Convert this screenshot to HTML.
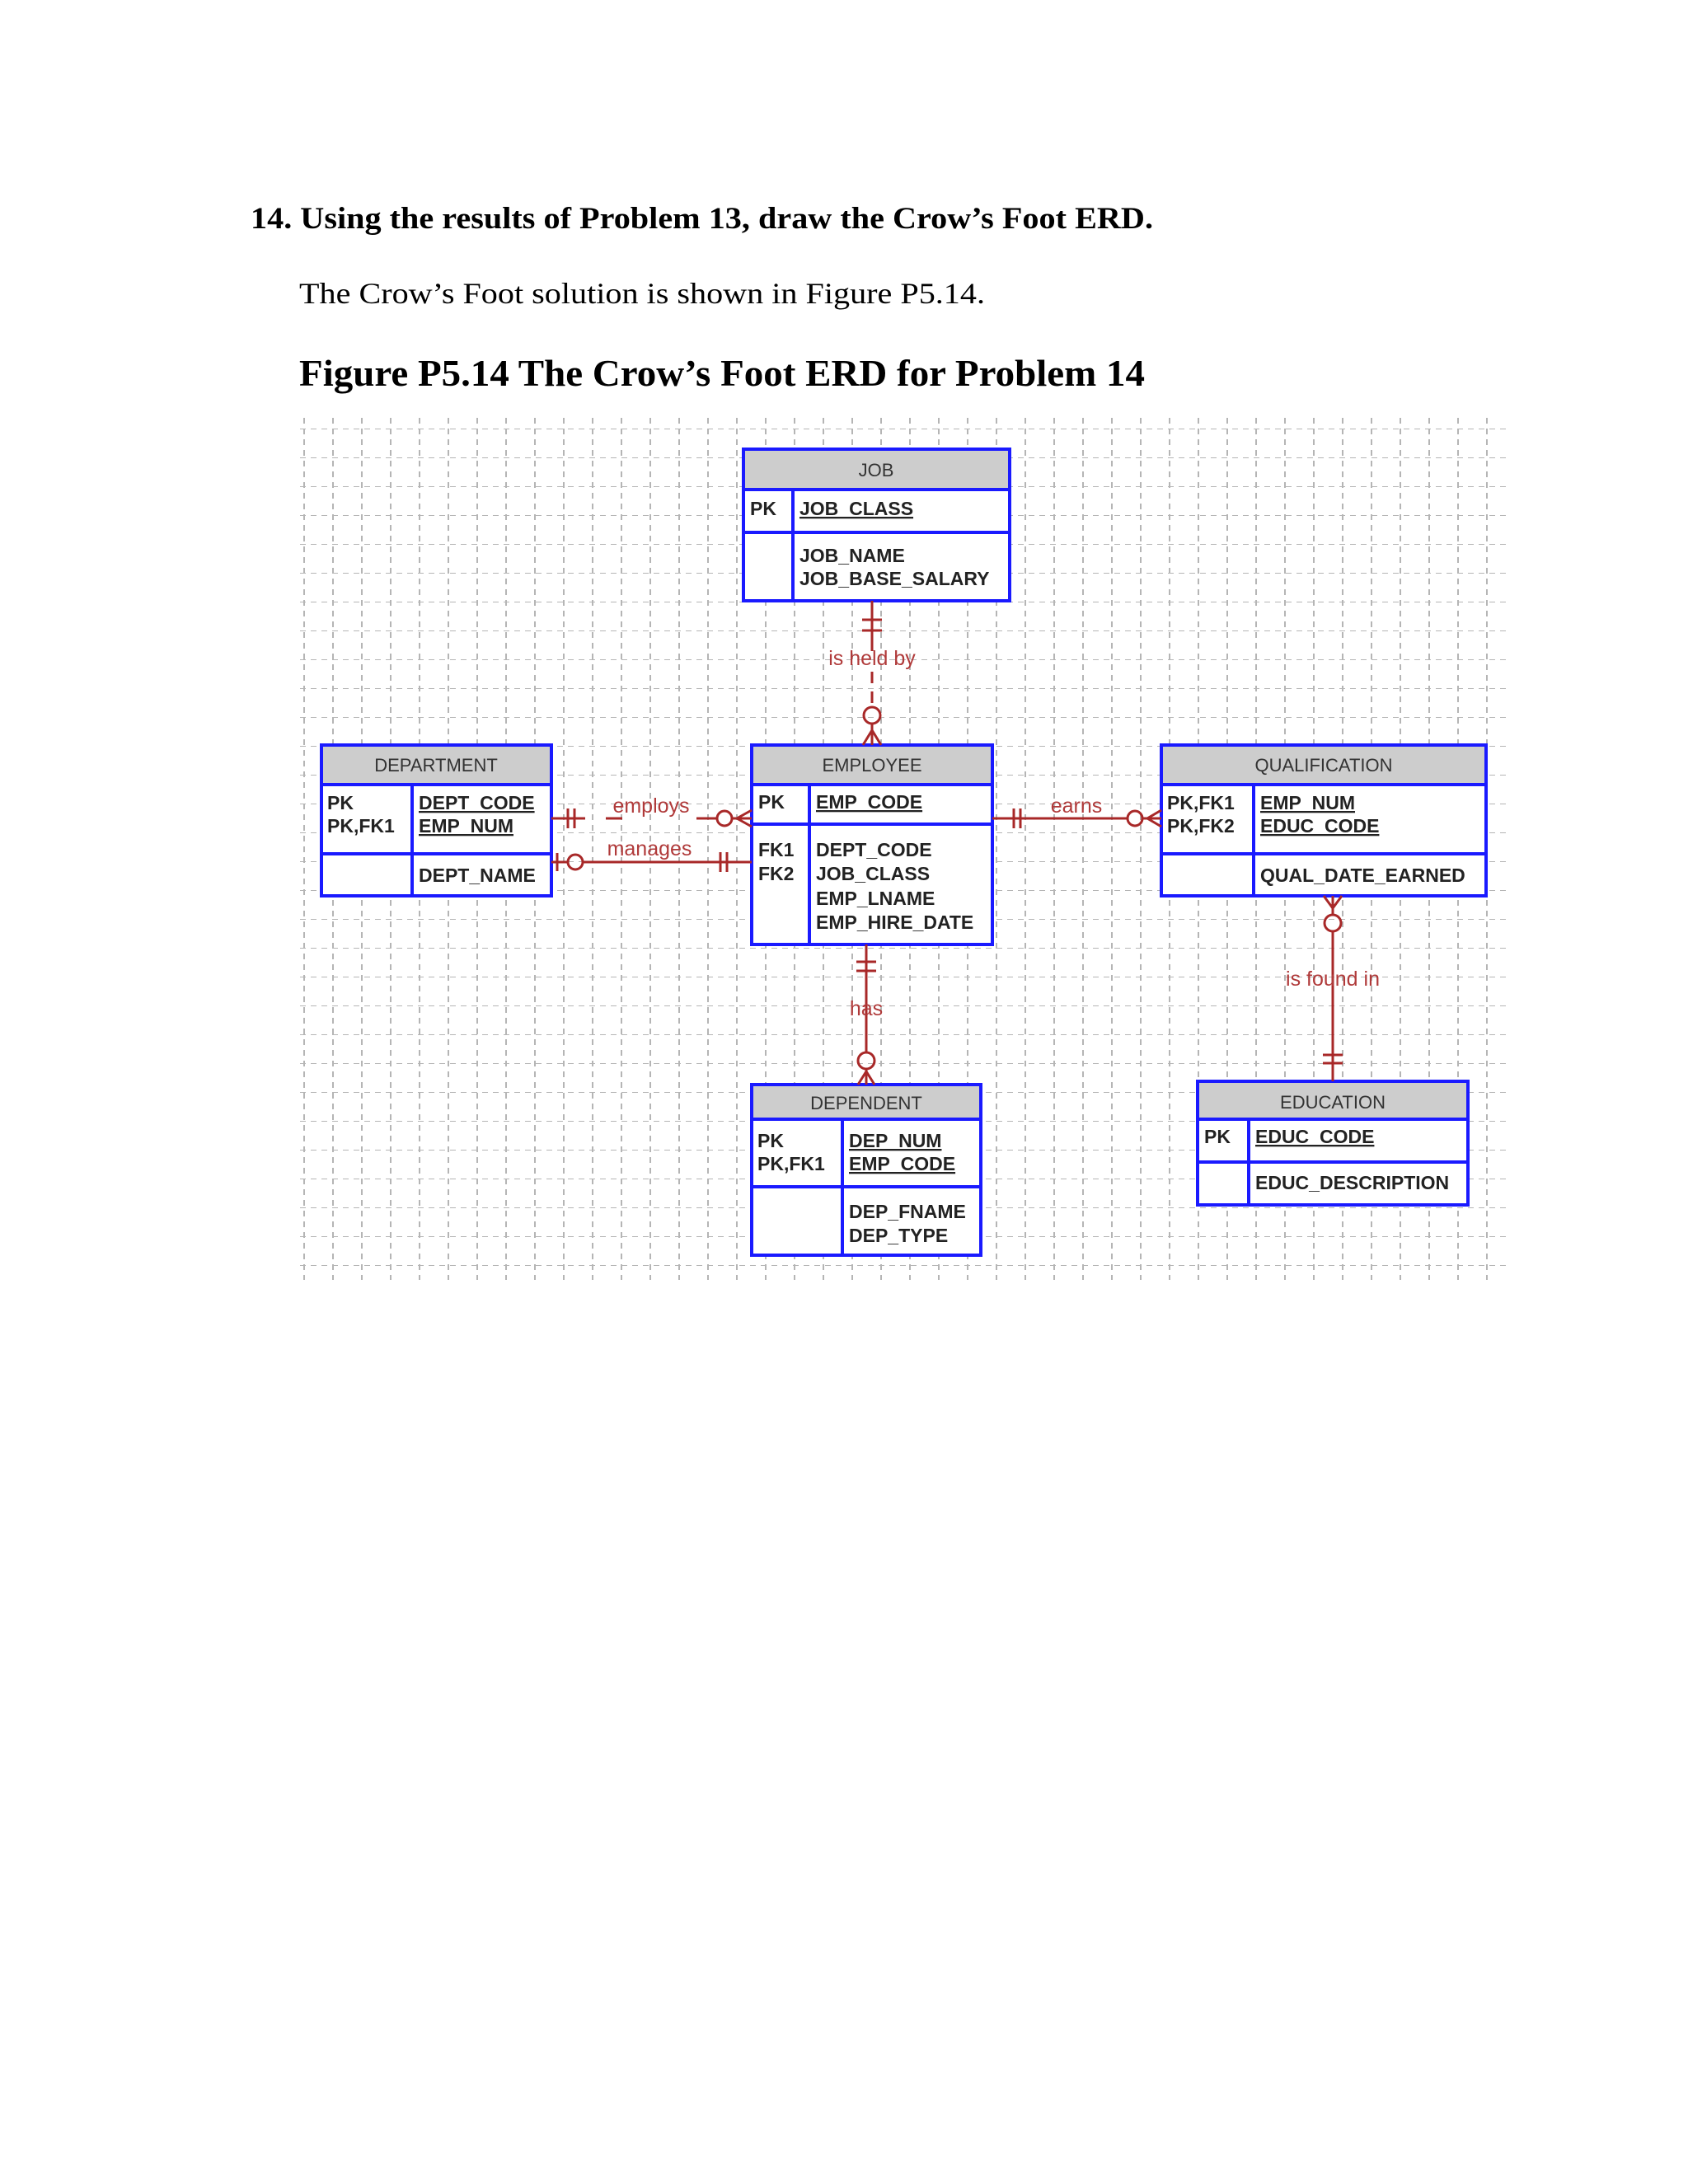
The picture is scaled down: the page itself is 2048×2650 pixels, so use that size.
<!DOCTYPE html>
<html><head><meta charset="utf-8"><style>
html,body{margin:0;padding:0;background:#fff;}
svg{display:block;}
.t{font-family:"Liberation Sans",Arial,sans-serif;font-size:23px;font-weight:bold;fill:#222;}
.t.ul{text-decoration:underline;}
.h{font-family:"Liberation Sans",Arial,sans-serif;font-size:22px;fill:#333;}
.r{font-family:"Liberation Sans",Arial,sans-serif;font-size:25px;fill:#b03a3a;}
.box{fill:#fff;stroke:#1a1aff;stroke-width:4;}
.hd{fill:#cdcdcd;}
.bl{stroke:#1a1aff;stroke-width:4;}
.rl{stroke:#a82828;stroke-width:3;fill:none;}
</style></head><body>
<svg width="2048" height="2650" viewBox="0 0 2048 2650" xmlns="http://www.w3.org/2000/svg">
<defs>
<pattern id="gv" x="352" y="0" width="35" height="2650" patternUnits="userSpaceOnUse">
<line x1="17" y1="0" x2="17" y2="2650" stroke="#b5b5b5" stroke-width="2" stroke-dasharray="7 6"/>
</pattern>
<pattern id="gh" x="0" y="520" width="2048" height="35" patternUnits="userSpaceOnUse">
<line x1="0" y1="0" x2="2048" y2="0" stroke="#b5b5b5" stroke-width="2" stroke-dasharray="7 6"/>
</pattern>
</defs>
<text x="304" y="277" font-family="Liberation Serif,serif" font-weight="bold" font-size="37" textLength="1095" lengthAdjust="spacingAndGlyphs">14. Using the results of Problem 13, draw the Crow’s Foot ERD.</text>
<text x="363" y="368" font-family="Liberation Serif,serif" font-size="36" textLength="832" lengthAdjust="spacingAndGlyphs">The Crow’s Foot solution is shown in Figure P5.14.</text>
<text x="363" y="468" font-family="Liberation Serif,serif" font-weight="bold" font-size="46" textLength="1026" lengthAdjust="spacingAndGlyphs">Figure P5.14 The Crow’s Foot ERD for Problem 14</text>

<rect x="363" y="507" width="1467" height="1046" fill="url(#gv)"/>
<rect x="363" y="507" width="1467" height="1046" fill="url(#gh)"/>

<!-- JOB -->
<rect class="box" x="902" y="545" width="323" height="184"/>
<rect class="hd" x="904" y="547" width="319" height="47"/>
<line class="bl" x1="902" y1="594" x2="1225" y2="594"/>
<line class="bl" x1="902" y1="646" x2="1225" y2="646"/>
<line class="bl" x1="962" y1="594" x2="962" y2="729"/>
<text class="h" x="1063" y="578" text-anchor="middle">JOB</text>
<text class="t" x="910" y="625">PK</text>
<text class="t ul" x="970" y="625">JOB_CLASS</text>
<text class="t" x="970" y="682">JOB_NAME</text>
<text class="t" x="970" y="710">JOB_BASE_SALARY</text>

<!-- DEPARTMENT -->
<rect class="box" x="390" y="904" width="279" height="183"/>
<rect class="hd" x="392" y="906" width="275" height="46"/>
<line class="bl" x1="390" y1="952" x2="669" y2="952"/>
<line class="bl" x1="390" y1="1036" x2="669" y2="1036"/>
<line class="bl" x1="500" y1="952" x2="500" y2="1087"/>
<text class="h" x="529" y="936" text-anchor="middle">DEPARTMENT</text>
<text class="t" x="397" y="982">PK</text>
<text class="t" x="397" y="1010">PK,FK1</text>
<text class="t ul" x="508" y="982">DEPT_CODE</text>
<text class="t ul" x="508" y="1010">EMP_NUM</text>
<text class="t" x="508" y="1070">DEPT_NAME</text>

<!-- EMPLOYEE -->
<rect class="box" x="912" y="904" width="292" height="242"/>
<rect class="hd" x="914" y="906" width="288" height="46"/>
<line class="bl" x1="912" y1="952" x2="1204" y2="952"/>
<line class="bl" x1="912" y1="1000" x2="1204" y2="1000"/>
<line class="bl" x1="982" y1="952" x2="982" y2="1146"/>
<text class="h" x="1058" y="936" text-anchor="middle">EMPLOYEE</text>
<text class="t" x="920" y="981">PK</text>
<text class="t ul" x="990" y="981">EMP_CODE</text>
<text class="t" x="920" y="1039">FK1</text>
<text class="t" x="920" y="1068">FK2</text>
<text class="t" x="990" y="1039">DEPT_CODE</text>
<text class="t" x="990" y="1068">JOB_CLASS</text>
<text class="t" x="990" y="1098">EMP_LNAME</text>
<text class="t" x="990" y="1127">EMP_HIRE_DATE</text>

<!-- QUALIFICATION -->
<rect class="box" x="1409" y="904" width="394" height="183"/>
<rect class="hd" x="1411" y="906" width="390" height="46"/>
<line class="bl" x1="1409" y1="952" x2="1803" y2="952"/>
<line class="bl" x1="1409" y1="1036" x2="1803" y2="1036"/>
<line class="bl" x1="1521" y1="952" x2="1521" y2="1087"/>
<text class="h" x="1606" y="936" text-anchor="middle">QUALIFICATION</text>
<text class="t" x="1416" y="982">PK,FK1</text>
<text class="t" x="1416" y="1010">PK,FK2</text>
<text class="t ul" x="1529" y="982">EMP_NUM</text>
<text class="t ul" x="1529" y="1010">EDUC_CODE</text>
<text class="t" x="1529" y="1070">QUAL_DATE_EARNED</text>

<!-- DEPENDENT -->
<rect class="box" x="912" y="1316" width="278" height="207"/>
<rect class="hd" x="914" y="1318" width="274" height="40"/>
<line class="bl" x1="912" y1="1358" x2="1190" y2="1358"/>
<line class="bl" x1="912" y1="1440" x2="1190" y2="1440"/>
<line class="bl" x1="1022" y1="1358" x2="1022" y2="1523"/>
<text class="h" x="1051" y="1346" text-anchor="middle">DEPENDENT</text>
<text class="t" x="919" y="1392">PK</text>
<text class="t" x="919" y="1420">PK,FK1</text>
<text class="t ul" x="1030" y="1392">DEP_NUM</text>
<text class="t ul" x="1030" y="1420">EMP_CODE</text>
<text class="t" x="1030" y="1478">DEP_FNAME</text>
<text class="t" x="1030" y="1507">DEP_TYPE</text>

<!-- EDUCATION -->
<rect class="box" x="1453" y="1312" width="328" height="150"/>
<rect class="hd" x="1455" y="1314" width="324" height="44"/>
<line class="bl" x1="1453" y1="1358" x2="1781" y2="1358"/>
<line class="bl" x1="1453" y1="1410" x2="1781" y2="1410"/>
<line class="bl" x1="1515" y1="1358" x2="1515" y2="1462"/>
<text class="h" x="1617" y="1345" text-anchor="middle">EDUCATION</text>
<text class="t" x="1461" y="1387">PK</text>
<text class="t ul" x="1523" y="1387">EDUC_CODE</text>
<text class="t" x="1523" y="1443">EDUC_DESCRIPTION</text>

<!-- JOB - EMPLOYEE -->
<line class="rl" x1="1058" y1="729" x2="1058" y2="790"/>
<line class="rl" x1="1058" y1="815" x2="1058" y2="858" stroke-dasharray="14 10"/>
<line class="rl" x1="1046" y1="752" x2="1070" y2="752"/>
<line class="rl" x1="1046" y1="765" x2="1070" y2="765"/>
<circle class="rl" cx="1058" cy="868" r="10"/>
<line class="rl" x1="1058" y1="878" x2="1058" y2="904"/>
<path class="rl" d="M1058 886 L1047 904 M1058 886 L1069 904"/>
<text class="r" x="1058" y="807" text-anchor="middle">is held by</text>

<!-- employs -->
<line class="rl" x1="669" y1="993" x2="710" y2="993"/>
<line class="rl" x1="735" y1="993" x2="755" y2="993" />
<line class="rl" x1="845" y1="993" x2="869" y2="993"/>
<line class="rl" x1="689" y1="981" x2="689" y2="1005"/>
<line class="rl" x1="697" y1="981" x2="697" y2="1005"/>
<circle class="rl" cx="879" cy="993" r="9"/>
<line class="rl" x1="888" y1="993" x2="912" y2="993"/>
<path class="rl" d="M894 993 L912 983 M894 993 L912 1003"/>
<text class="r" x="790" y="986" text-anchor="middle">employs</text>

<!-- manages -->
<line class="rl" x1="669" y1="1046" x2="689" y2="1046"/>
<line class="rl" x1="676" y1="1035" x2="676" y2="1057"/>
<circle class="rl" cx="698" cy="1046" r="9"/>
<line class="rl" x1="707" y1="1046" x2="912" y2="1046"/>
<line class="rl" x1="874" y1="1034" x2="874" y2="1058"/>
<line class="rl" x1="882" y1="1034" x2="882" y2="1058"/>
<text class="r" x="788" y="1038" text-anchor="middle">manages</text>

<!-- earns -->
<line class="rl" x1="1204" y1="993" x2="1368" y2="993"/>
<line class="rl" x1="1230" y1="981" x2="1230" y2="1005"/>
<line class="rl" x1="1238" y1="981" x2="1238" y2="1005"/>
<circle class="rl" cx="1377" cy="993" r="9"/>
<line class="rl" x1="1386" y1="993" x2="1409" y2="993"/>
<path class="rl" d="M1392 993 L1409 983 M1392 993 L1409 1003"/>
<text class="r" x="1306" y="986" text-anchor="middle">earns</text>

<!-- has -->
<line class="rl" x1="1051" y1="1146" x2="1051" y2="1277"/>
<line class="rl" x1="1039" y1="1167" x2="1063" y2="1167"/>
<line class="rl" x1="1039" y1="1178" x2="1063" y2="1178"/>
<circle class="rl" cx="1051" cy="1287" r="10"/>
<line class="rl" x1="1051" y1="1297" x2="1051" y2="1316"/>
<path class="rl" d="M1051 1300 L1041 1316 M1051 1300 L1061 1316"/>
<text class="r" x="1051" y="1232" text-anchor="middle">has</text>

<!-- is found in -->
<line class="rl" x1="1617" y1="1087" x2="1617" y2="1110"/>
<path class="rl" d="M1617 1102 L1606 1087 M1617 1102 L1628 1087"/>
<circle class="rl" cx="1617" cy="1120" r="10"/>
<line class="rl" x1="1617" y1="1130" x2="1617" y2="1312"/>
<line class="rl" x1="1605" y1="1280" x2="1629" y2="1280"/>
<line class="rl" x1="1605" y1="1290" x2="1629" y2="1290"/>
<text class="r" x="1617" y="1196" text-anchor="middle">is found in</text>
</svg>
</body></html>
